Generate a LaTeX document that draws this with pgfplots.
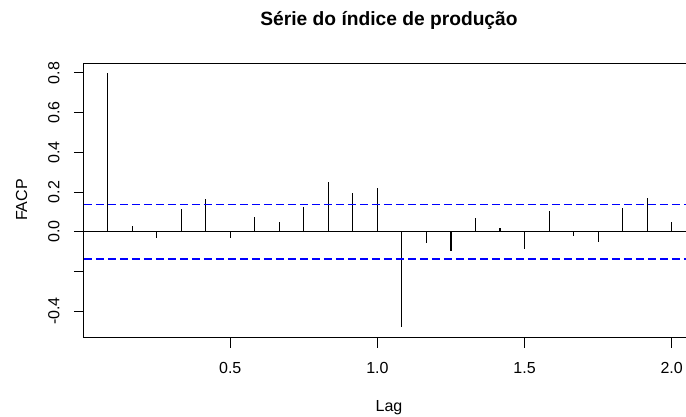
\documentclass[border=0pt]{standalone}
\usepackage{pgfplots}
\pgfplotsset{compat=1.18}
\usepackage{fontspec}
\setmainfont{Liberation Sans}
\tikzset{ylabnode/.style={font=\fontsize{12}{14}\selectfont, rotate=90, anchor=base, inner sep=0pt}}

\begin{document}
\begin{tikzpicture}
\begin{axis}[
  name=ax,
  x=220.725pt, y=148.875pt,
  xmin=0.003, xmax=2.0767, ymin=-0.533, ymax=0.849,
  axis line style={line width=0.75pt, black},
  clip=false,
  xtick={0.5,1.0,1.5,2.0},
  xticklabels={0.5,1.0,1.5,2.0},
  ytick={-0.4,-0.2,0,0.2,0.4,0.6,0.8},
  yticklabel=\empty,
  tick align=outside,
  major tick length=7.5pt,
  tick style={black, line width=0.75pt},
  xtick pos=left, ytick pos=left,
  ticklabel style={font=\fontsize{12}{14}\selectfont},
  xticklabel style={anchor=north, inner sep=0pt, yshift=-11.25pt},
]
\addplot[ycomb, black, line width=0.8pt, mark=none] coordinates {
(0.08333,0.798) (0.16667,0.029) (0.25,-0.033) (0.33333,0.113)
(0.41667,0.165) (0.5,-0.030) (0.58333,0.076) (0.66667,0.047)
(0.75,0.126) (0.83333,0.250) (0.91667,0.193) (1.0,0.220)
(1.08333,-0.482) (1.16667,-0.055) (1.25,-0.096) (1.33333,0.071)
(1.41667,0.020) (1.5,-0.086) (1.58333,0.106) (1.66667,-0.020)
(1.75,-0.050) (1.83333,0.121) (1.91667,0.170) (2.0,0.049)
};
\addplot[black, line width=0.75pt, mark=none] coordinates {(0.003,0) (2.0767,0)};
\addplot[color=blue, line width=0.8pt, dash pattern=on 6pt off 3pt, mark=none] coordinates {(0.003,0.138) (2.0767,0.138)};
\addplot[color=blue, line width=0.8pt, dash pattern=on 6pt off 3pt, mark=none] coordinates {(0.003,-0.1375) (2.0767,-0.1375)};
\node[ylabnode] at (axis cs:-0.0809,-0.4) {-0.4};
\node[ylabnode] at (axis cs:-0.0809,0) {0.0};
\node[ylabnode] at (axis cs:-0.0809,0.2) {0.2};
\node[ylabnode] at (axis cs:-0.0809,0.4) {0.4};
\node[ylabnode] at (axis cs:-0.0809,0.6) {0.6};
\node[ylabnode] at (axis cs:-0.0809,0.8) {0.8};
\node[font=\bfseries\fontsize{14.4}{17}\selectfont, anchor=base, inner sep=0pt] at (axis cs:1.0394,1.0363) {Série do índice de produção};
\node[font=\fontsize{12}{14}\selectfont, anchor=base, inner sep=0pt] at (axis cs:1.0394,-0.9053) {Lag};
\node[ylabnode] at (axis cs:-0.1906,0.1597) {FACP};
\coordinate (bbsw) at (axis cs:-0.2824,-0.9290);
\coordinate (bbne) at (axis cs:2.0486,1.1673);
\end{axis}
\pgfresetboundingbox
\useasboundingbox (bbsw) rectangle (bbne);
\end{tikzpicture}
\end{document}
